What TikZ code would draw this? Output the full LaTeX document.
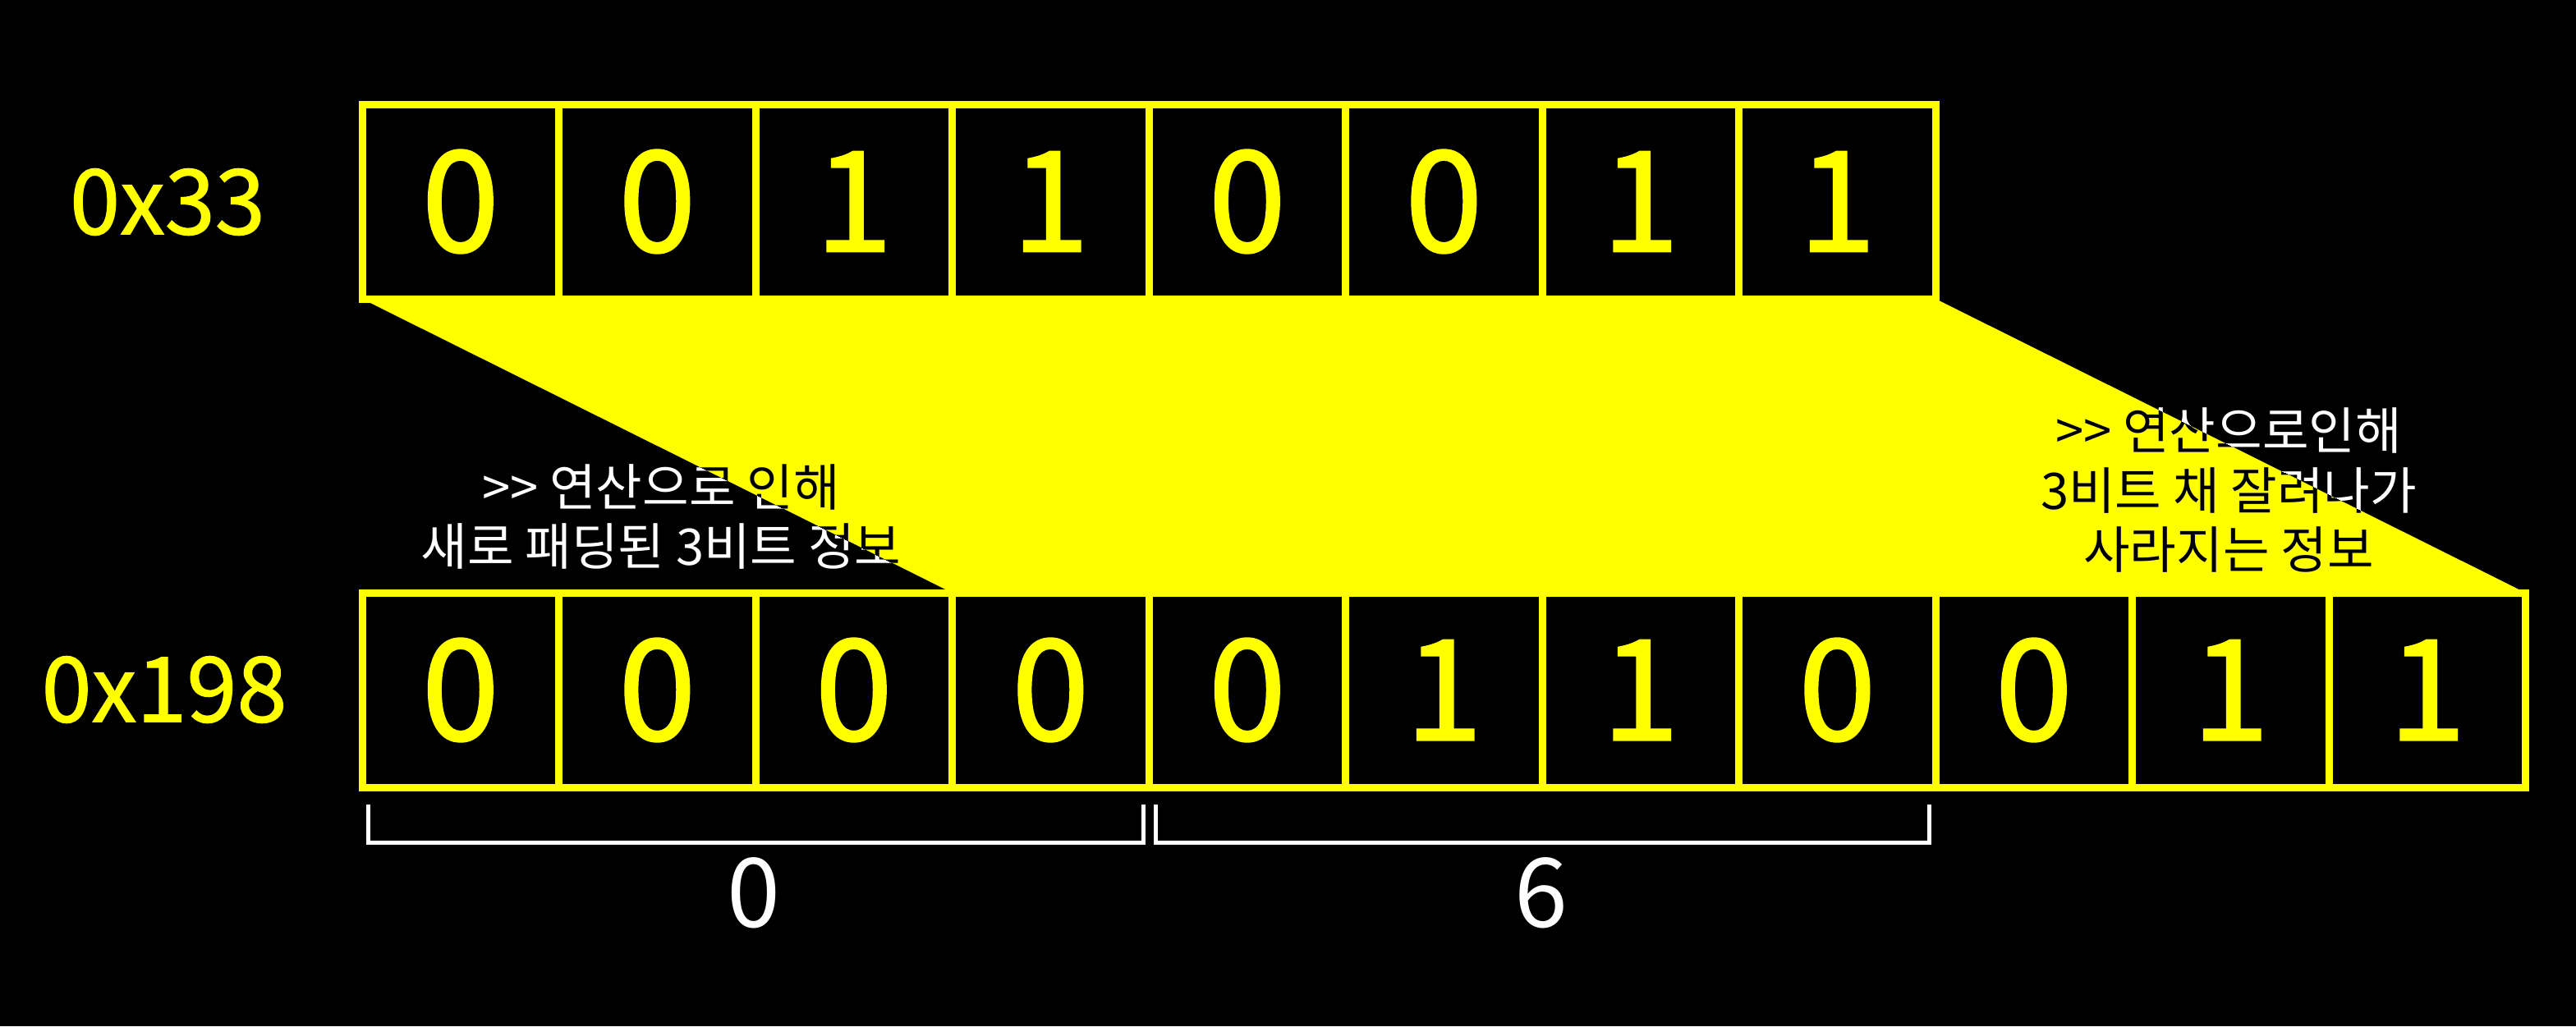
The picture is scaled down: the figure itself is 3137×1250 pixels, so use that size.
\documentclass[tikz,border=0pt]{standalone}
\usepackage{fontspec}
\setmainfont{Noto Sans CJK KR}
\newfontfamily\digitfont{Noto Sans CJK KR}[Numbers=Proportional, FakeBold=1.2]
\usetikzlibrary{calc}
\definecolor{yel}{RGB}{255,255,0}
\tikzset{
  cell/.style={draw=yel, fill=black, line width=9pt, minimum width=239.5pt,
    minimum height=237pt, inner sep=0pt, outer sep=0pt, text=yel,
    font=\digitfont\fontsize{171}{180}\selectfont},
  hexlabel/.style={text=yel, font=\digitfont\fontsize{110}{120}\selectfont, inner sep=0pt},
  kor/.style={font=\fontsize{61.5}{71}\selectfont, inner sep=0pt, anchor=base},
  bracket/.style={draw=white, line width=5pt},
  countlabel/.style={text=white, font=\fontsize{117}{120}\selectfont, inner sep=0pt},
  shiftfill/.style={fill=yel},
}
\newcommand{\shiftnotes}[2]{%
  \node[kor,text=#1] (la#2) at (805,616) {>\kern0pt> 연산으로 인해};
  \node[kor,text=#1] (lb#2) at (805,688) {새로 패딩된 3비트 정보};
  \node[kor,text=#1] (ra#2) at (2714,547) {>\kern0pt> 연산으로인해};
  \node[kor,text=#1] (rb#2) at (2714,620) {3비트 채 잘려나가};
  \node[kor,text=#1] (rc#2) at (2714,692) {사라지는 정보};
}
\begin{document}
\begin{tikzpicture}[x=1pt,y=-1pt]
\fill[black] (0,0) rectangle (3137,1250);
\useasboundingbox (0,0) rectangle (3137,1250);
% top row 0x33
\foreach \b [count=\i from 0] in {0,0,1,1,0,0,1,1}
  \node[cell] (t\i) at ({441+239.5*(\i+0.5)},245.5) {\b};
% bottom row 0x198
\foreach \b [count=\i from 0] in {0,0,0,0,0,1,1,0,0,1,1}
  \node[cell] (b\i) at ({441+239.5*(\i+0.5)},840.5) {\b};
% shift band
\fill[shiftfill] (t0.south west) -- (t7.south east) -- (b10.north east) -- (b3.north west) -- cycle;
% notes: white on black, black on yellow
\shiftnotes{white}{w}
\begin{scope}
  \clip (t0.south west) -- (t7.south east) -- (b10.north east) -- (b3.north west) -- cycle;
  \shiftnotes{black}{k}
\end{scope}
% hex labels
\node[hexlabel] (h33) at (204,246) {0x33};
\node[hexlabel] (h198) at (200,840) {0x198};
% brackets
\draw[bracket] ($(b0.south west)+(7,21)$) -- ++(0,46) -| ($(b3.south east)+(-7,21)$);
\draw[bracket] ($(b4.south west)+(8,21)$) -- ++(0,46) -| ($(b7.south east)+(-8,21)$);
\node[countlabel] (c0) at ($(b0.south west)!0.5!(b3.south east)+(-2,129)$) {0};
\node[countlabel] (c6) at ($(b4.south west)!0.5!(b7.south east)+(-1,129)$) {6};
\end{tikzpicture}
\end{document}
